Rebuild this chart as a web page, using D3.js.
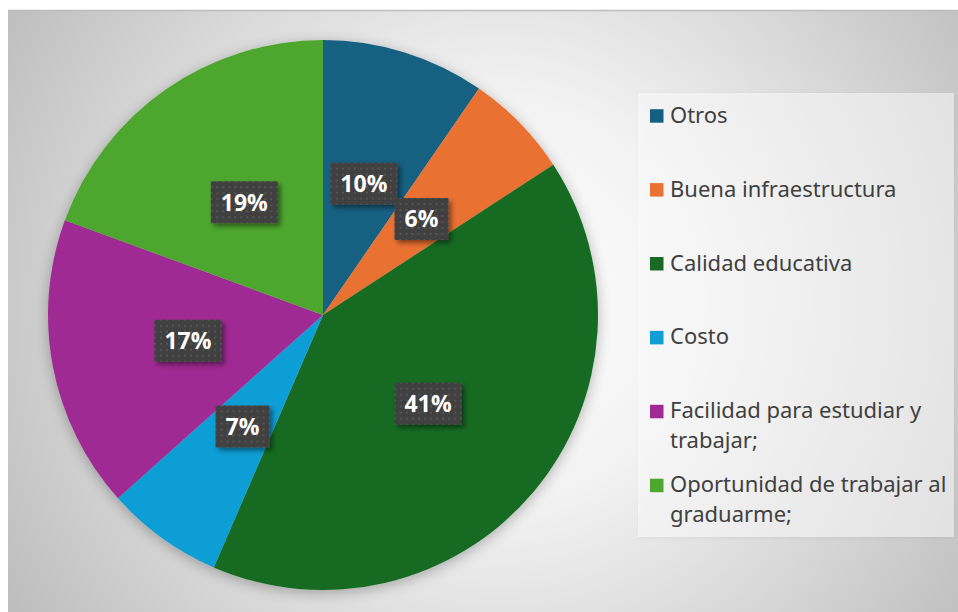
<!DOCTYPE html>
<html><head><meta charset="utf-8">
<script src="https://cdn.jsdelivr.net/npm/d3@7"></script>
<style>html,body{margin:0;padding:0;background:#fff;}svg{display:block;}</style>
</head><body>
<svg id="c" width="958" height="612"></svg>
<script>
const categories = ["Otros","Buena infraestructura","Calidad educativa","Costo","Facilidad para estudiar y trabajar;","Oportunidad de trabajar al graduarme;"];
const legendLines = [["Otros"],["Buena infraestructura"],["Calidad educativa"],["Costo"],["Facilidad para estudiar y","trabajar;"],["Oportunidad de trabajar al","graduarme;"]];
const values = [9.6, 6.2, 40.7, 6.9, 17.2, 19.4];
const colors = ["#156082","#E97132","#196B24","#0F9ED5","#A02B93","#4EA72E"];

const svg = d3.select("#c");
const defs = svg.append("defs");

const bg = defs.append("radialGradient").attr("id","bg").attr("gradientUnits","userSpaceOnUse")
  .attr("cx",500).attr("cy",300).attr("r",580);
bg.append("stop").attr("offset",0).attr("stop-color","#ffffff");
bg.append("stop").attr("offset",0.35).attr("stop-color","#f2f2f2");
bg.append("stop").attr("offset",1).attr("stop-color","#bdbdbd");

const sh = defs.append("filter").attr("id","pieShadow").attr("x","-20%").attr("y","-20%").attr("width","140%").attr("height","140%");
sh.append("feGaussianBlur").attr("in","SourceAlpha").attr("stdDeviation",7).attr("result","b");
sh.append("feOffset").attr("in","b").attr("dx",0).attr("dy",3).attr("result","o");
sh.append("feComponentTransfer").attr("in","o").attr("result","oa").append("feFuncA").attr("type","linear").attr("slope",0.28);
const m1 = sh.append("feMerge"); m1.append("feMergeNode").attr("in","oa"); m1.append("feMergeNode").attr("in","SourceGraphic");

const lsh = defs.append("filter").attr("id","lblShadow").attr("x","-30%").attr("y","-30%").attr("width","160%").attr("height","160%");
lsh.append("feGaussianBlur").attr("in","SourceAlpha").attr("stdDeviation",2.5).attr("result","b");
lsh.append("feOffset").attr("in","b").attr("dx",3).attr("dy",3).attr("result","o");
lsh.append("feComponentTransfer").attr("in","o").attr("result","oa").append("feFuncA").attr("type","linear").attr("slope",0.45);
const m2 = lsh.append("feMerge"); m2.append("feMergeNode").attr("in","oa"); m2.append("feMergeNode").attr("in","SourceGraphic");

const legSh = defs.append("filter").attr("id","legShadow").attr("x","-10%").attr("y","-10%").attr("width","120%").attr("height","120%");
legSh.append("feGaussianBlur").attr("in","SourceAlpha").attr("stdDeviation",2).attr("result","b");
legSh.append("feOffset").attr("in","b").attr("dx",1).attr("dy",1).attr("result","o");
legSh.append("feComponentTransfer").attr("in","o").attr("result","oa").append("feFuncA").attr("type","linear").attr("slope",0.12);
const m3 = legSh.append("feMerge"); m3.append("feMergeNode").attr("in","oa"); m3.append("feMergeNode").attr("in","SourceGraphic");

const pat = defs.append("pattern").attr("id","dots").attr("patternUnits","userSpaceOnUse").attr("width",6).attr("height",6);
pat.append("rect").attr("width",6).attr("height",6).attr("fill","#404040");
pat.append("rect").attr("x",2).attr("y",2).attr("width",2).attr("height",2).attr("fill","#545454");

// chart background
svg.append("rect").attr("x",8).attr("y",10).attr("width",950).attr("height",602).attr("fill","url(#bg)");
svg.append("line").attr("x1",8).attr("x2",958).attr("y1",10.5).attr("y2",10.5).attr("stroke","#bdbdbd").attr("stroke-width",1.5);

// pie
const cx = 323, cy = 315, R = 275;
const pie = d3.pie().sort(null).value(d => d)(values);
const arc = d3.arc().innerRadius(0).outerRadius(R);
const g = svg.append("g").attr("transform",`translate(${cx},${cy})`);
g.append("g").attr("filter","url(#pieShadow)").selectAll("path").data(pie).join("path")
  .attr("d",arc).attr("fill",(d,i)=>colors[i]);

// data labels
const fmt = v => Math.round(v) + "%";
const lblG = g.append("g");
pie.forEach((d,i)=>{
  const [x,y] = arc.centroid(d);
  const lg = lblG.append("g").attr("transform",`translate(${x},${y})`);
  const t = lg.append("text").text(fmt(values[i]))
    .attr("text-anchor","middle").attr("dy","0.36em")
    .attr("font-family","'Open Sans', 'Noto Sans', sans-serif").attr("font-weight","bold")
    .attr("font-size",23).attr("fill","#ffffff");
  const w = t.node().getComputedTextLength() + 20;
  lg.insert("rect","text").attr("x",-w/2).attr("y",-21).attr("width",w).attr("height",42)
    .attr("fill","url(#dots)").attr("filter","url(#lblShadow)");
});

// legend
svg.append("rect").attr("x",638).attr("y",93).attr("width",316).attr("height",444)
  .attr("fill","#ffffff").attr("fill-opacity",0.5).attr("filter","url(#legShadow)");
const leg = svg.append("g");
const y0 = 122.7, step = 73.9, lh = 29.3;
legendLines.forEach((lines,i)=>{
  const by = y0 + i*step;
  leg.append("rect").attr("x",650).attr("y",by-13.5).attr("width",13.5).attr("height",13.5).attr("fill",colors[i]);
  const t = leg.append("text").attr("x",670).attr("y",by)
    .attr("font-family","'Noto Sans', sans-serif").attr("font-size",22).attr("fill","#404040");
  lines.forEach((ln,j)=>{
    t.append("tspan").attr("x",670).attr("y",by + j*lh).text(ln);
  });
});
</script>
</body></html>
